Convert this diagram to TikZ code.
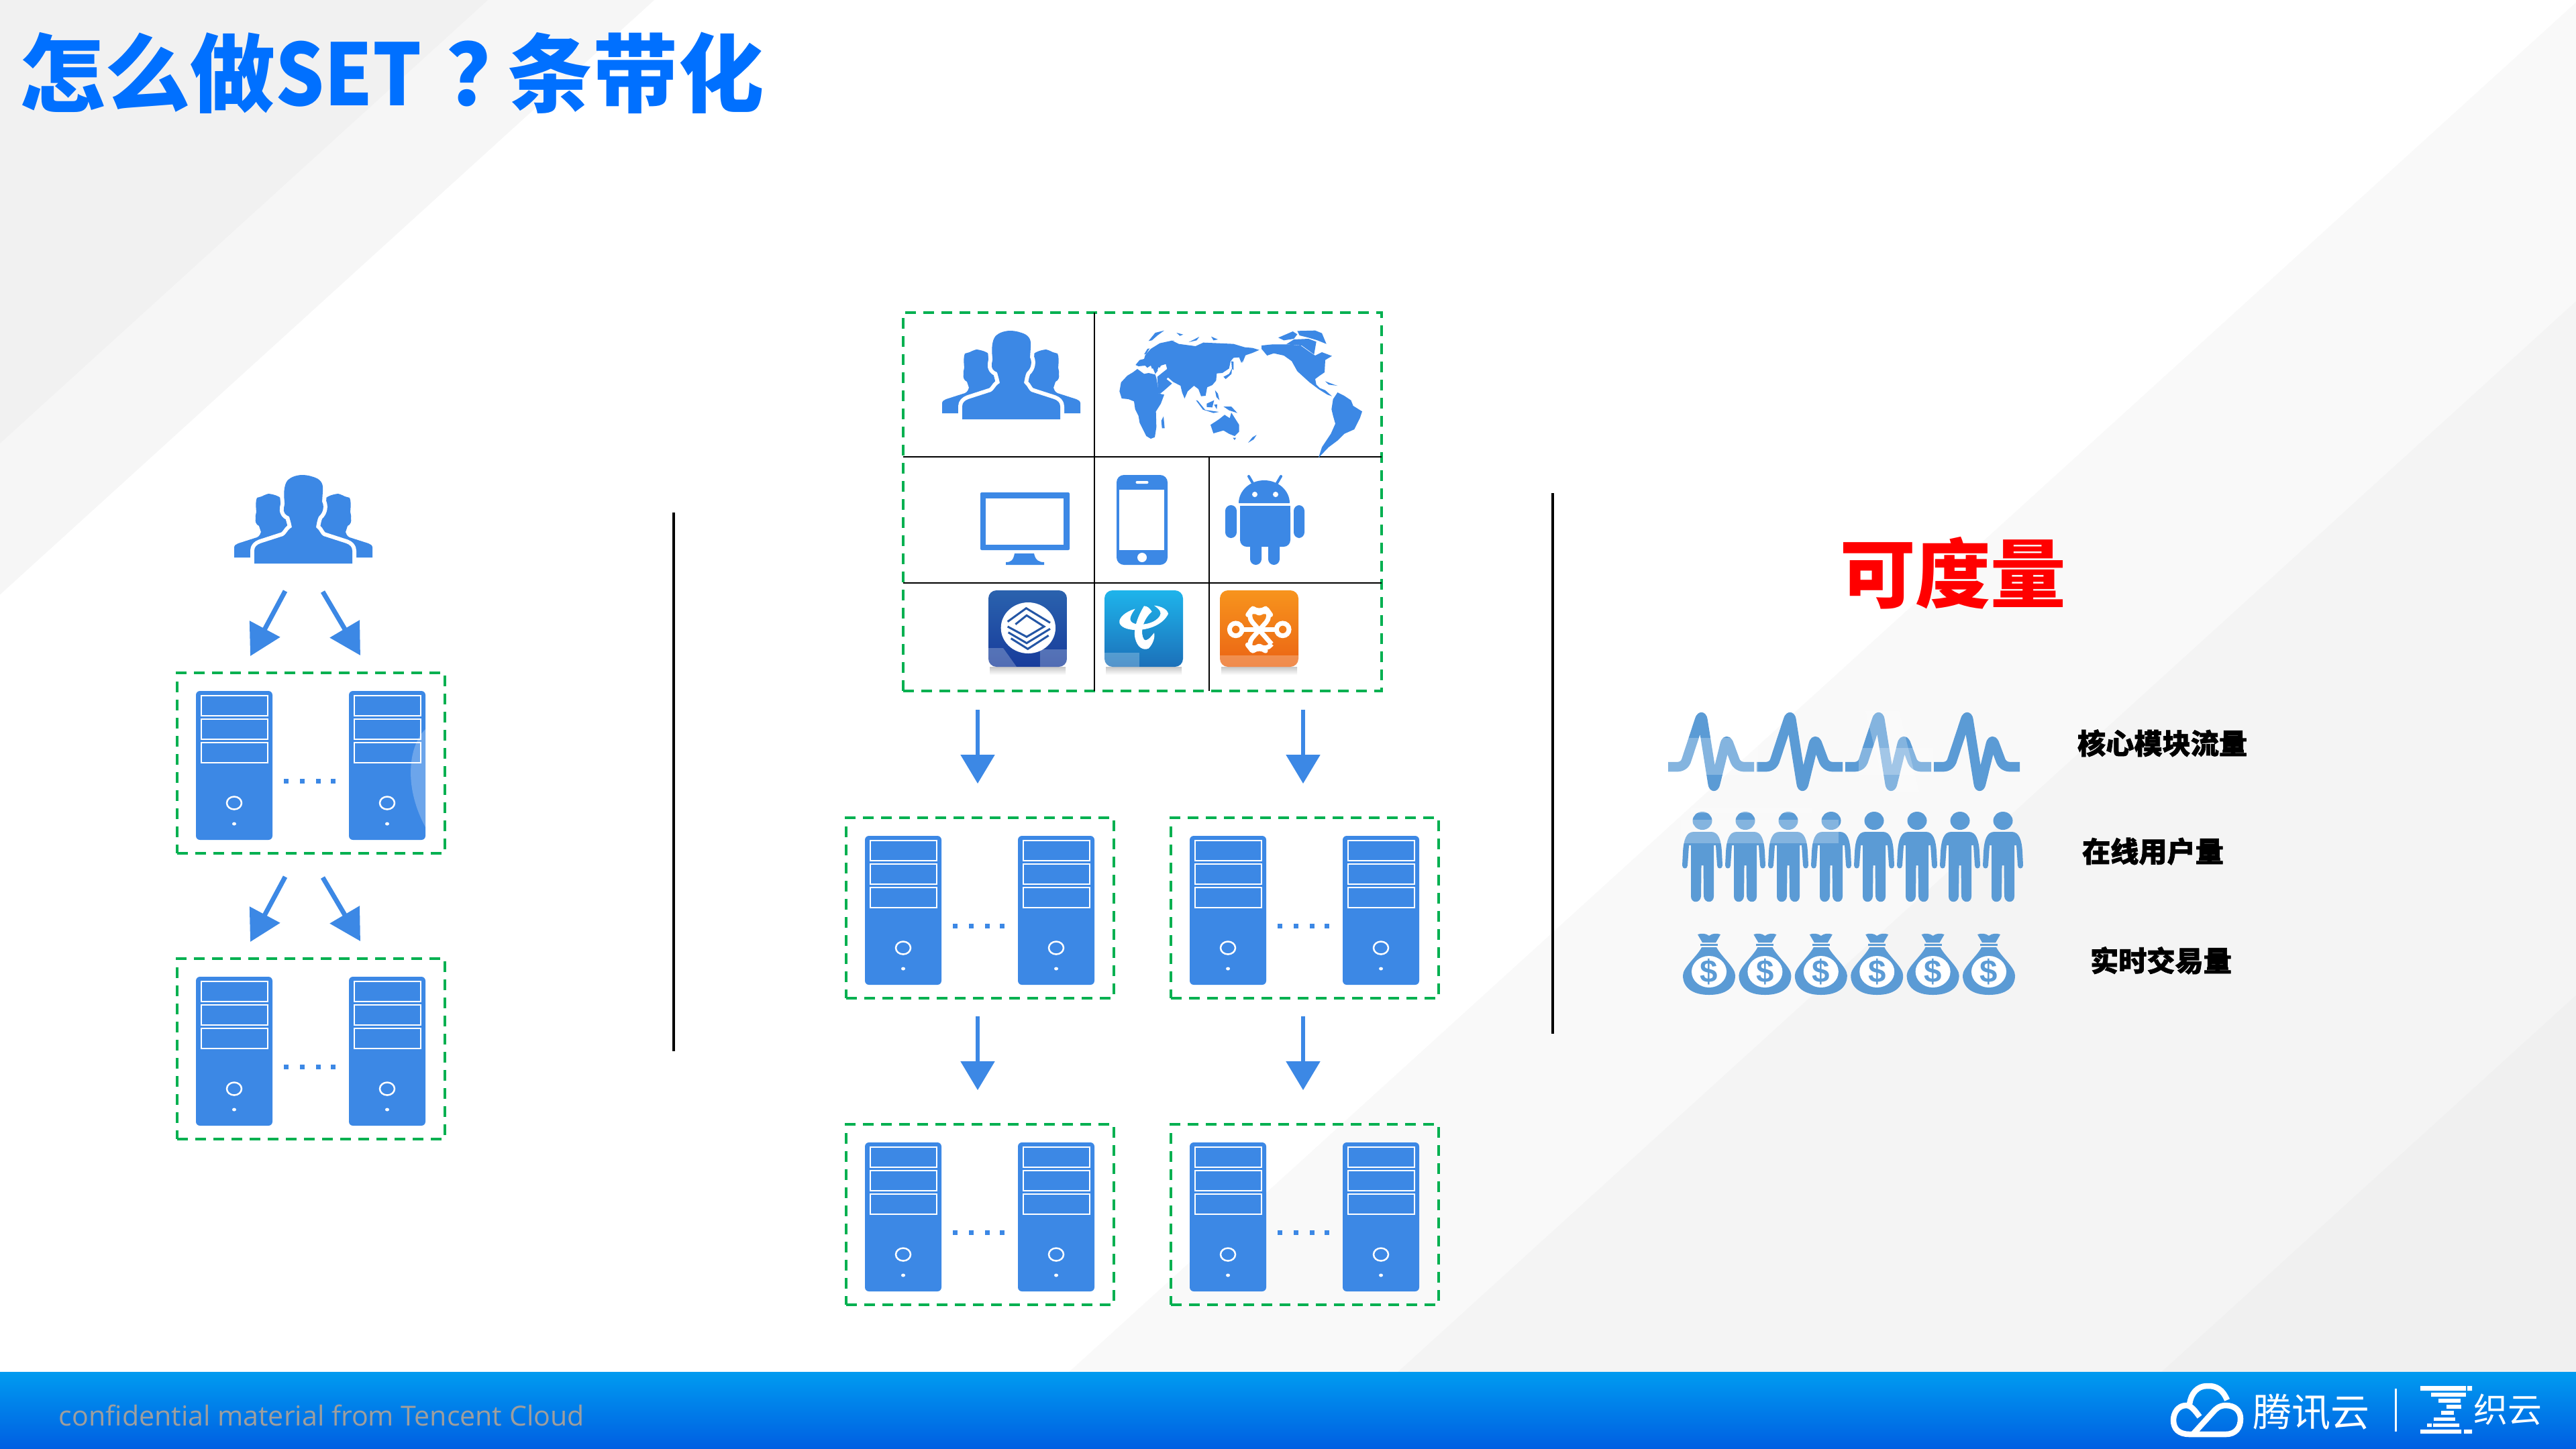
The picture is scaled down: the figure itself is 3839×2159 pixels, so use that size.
\documentclass[tikz,border=0pt]{standalone}
\usepackage{fontspec}
\setmainfont{Liberation Sans}
\newfontfamily\cjk{Noto Sans CJK SC}
\newfontfamily\cjknarrow[FakeStretch=0.9]{Noto Sans CJK SC}
\newfontfamily\cjkheavy[BoldFeatures={FakeBold=1.5}]{Noto Sans CJK SC}
\newfontfamily\uifont{Open Sans}
\usetikzlibrary{arrows.meta}
\definecolor{iconblue}{HTML}{3C88E5}
\definecolor{softblue}{HTML}{5B9BD5}
\definecolor{titleblue}{HTML}{0070FF}
\definecolor{dashgreen}{HTML}{00B050}
\definecolor{foottop}{HTML}{009BF0}
\definecolor{footbot}{HTML}{005FE2}
\definecolor{mobtop}{HTML}{2A62AE}
\definecolor{mobbot}{HTML}{183C9B}
\definecolor{mobline}{HTML}{2456A5}
\definecolor{teltop}{HTML}{1EB4EB}
\definecolor{telbot}{HTML}{1C70B9}
\definecolor{unitop}{HTML}{F7941D}
\definecolor{unibot}{HTML}{EB6414}
\tikzset{
  txt/.style={inner sep=0pt,outer sep=0pt},
  dashbox/.style={draw=dashgreen,line width=.35mm,dash pattern=on 1.57mm off 1.13mm,inner sep=0pt,outer sep=0pt,minimum width=39.9mm,minimum height=26.9mm,anchor=north west},
  flow/.style={iconblue,line width=.55mm,-{Triangle[length=4.3mm,width=5mm]}},
  diagflow/.style={iconblue,line width=.7mm,-{Triangle[length=4.6mm,width=5mm]}},
  gridline/.style={black,line width=.26mm},
  divider/.style={black,line width=.4mm},
  mobstroke/.style={mobline,line width=.3mm,line join=miter},
}
% server pair inside a dashed box whose corner is at #2,#3
\newcommand\srvtower[2]{%
  \begin{scope}[shift={(#1,#2)}]
    \fill[iconblue,rounded corners=.6mm] (0,0) rectangle (114,222);
    \foreach \yy in {7,42,77}{\draw[white,line width=.25mm] (8,\yy) rectangle (107,\yy+30);}
    \draw[white,line width=.25mm] (57,167) ellipse [x radius=11,y radius=9.5];
    \fill[white] (57,198) ellipse [x radius=3,y radius=2.5];
  \end{scope}}
\newcommand\srvbox[3]{%
  \node[dashbox] (#1) at (#2,#3) {};
  \srvtower{#2+28}{#3+27}
  \srvtower{#2+256}{#3+27}
  \foreach \dd in {162,186,210,232}{\fill[iconblue] (#2+\dd-3.5,#3+161-3.5) rectangle (#2+\dd+3.5,#3+161+3.5);}
}
\newcommand\crowdhalo{(-73,132) -- (-73,113) .. controls (-73,107) and (-69,104) .. (-64,102) -- (-30,91) .. controls (-26,89) and (-23,82) .. (-20,80) -- (-17,78) .. controls (-18,72) and (-20,66) .. (-21,62) .. controls (-27,60) and (-30,55) .. (-29,50) .. controls (-29,46) and (-27,44) .. (-28,40) .. controls (-30,25) and (-28,10) .. (-21,6) .. controls (-15,1) and (-5,0) .. (-2,0) .. controls (8,0) and (15,3) .. (18,4) .. controls (28,8) and (30,15) .. (29,25) -- (28,40) .. controls (31,45) and (31,55) .. (23,62) .. controls (21,66) and (20,72) .. (19,78) -- (21,80) .. controls (24,82) and (26,89) .. (30,91) -- (64,102) .. controls (69,104) and (73,107) .. (73,113) -- (73,132) -- cycle}
\newcommand\crowdside{(-103,123) -- (-103,108) .. controls (-103,105) and (-100,103) .. (-97,102) -- (-69,93) .. controls (-65,91) and (-64,88) .. (-63,85) -- (-66,76) .. controls (-71,74) and (-72,68) .. (-71,65) .. controls (-72,60) and (-70,58) .. (-70,55) .. controls (-71,45) and (-71,38) .. (-69,34) -- (-62,32) .. controls (-56,29) and (-53,28) .. (-51,28) .. controls (-44,29) and (-38,31) .. (-34,34) -- (-25,70) -- (-10,123) -- cycle}
\newcommand\crowdicon[2]{%
  \begin{scope}[shift={(#1,#2)}]
    \fill[iconblue] \crowdside;
    \begin{scope}[xscale=-1]\fill[iconblue] \crowdside;\end{scope}
    \draw[white,line width=1.2mm,line join=round] \crowdhalo;
    \fill[iconblue] \crowdhalo;
  \end{scope}}
\newcommand\pulseunit[1]{%
  \draw[softblue,line width=1.45mm,line join=round,rounded corners=.9mm] (#1,1143) -- (#1+24,1143) -- (#1+50,1064) -- (#1+68,1177) -- (#1+87,1100) -- (#1+103,1143) -- (#1+128,1143);}
\newcommand\manicon[1]{%
  \begin{scope}[shift={(#1,1240)}]
    \fill[softblue] (0,-16.5) ellipse [x radius=14.5,y radius=13.5];
    \fill[softblue] (-13,0) .. controls (-24,0) and (-28,12) .. (-29,30) -- (-30,50) .. controls (-30,56) and (-22,56) .. (-22,50) -- (-20,20) -- (-17,20) -- (-17,96) .. controls (-17,107) and (-3,107) .. (-2,96) -- (-1.5,50) -- (1.5,50) -- (2,96) .. controls (3,107) and (17,107) .. (17,96) -- (17,20) -- (20,20) -- (22,50) .. controls (22,56) and (30,56) .. (30,50) -- (29,30) .. controls (28,12) and (24,0) .. (13,0) -- cycle;
  \end{scope}}
\newcommand\bagicon[2]{%
  \begin{scope}[shift={(#2,1392)}]
    \fill[softblue] (-17,1) .. controls (-12,-1) and (-5,-1) .. (0,3) .. controls (5,-1) and (12,-1) .. (17,1) -- (10,13) -- (-10,13) -- cycle;
    \fill[softblue] (-13,15) rectangle (13,17.7);
    \fill[softblue] (-11,20) -- (11,20) .. controls (18,34) and (39,50) .. (39,62) .. controls (39,80) and (25,91) .. (0,91) .. controls (-25,91) and (-39,80) .. (-39,62) .. controls (-39,50) and (-18,34) .. (-11,20) -- cycle;
    \fill[white] (0,56.5) ellipse [x radius=26,y radius=23.5];
    \node[txt,softblue,font=\fontsize{13.5}{14}\selectfont\bfseries] (#1) at (0,57) {\$};
  \end{scope}}
\begin{document}
\begin{tikzpicture}[x=0.1mm,y=-0.1mm]
\useasboundingbox (0,0) rectangle (3839,2159);
% background
\fill[white] (0,0) rectangle (3839,2159);
\begin{scope}
  \clip (0,0) rectangle (3839,2159);
  \fill[black!3.5] (-100,0) -- (975,0) -- (-1400,2159) -- (-100,2159) -- cycle;
  \fill[black!5.5] (-100,0) -- (727,0) -- (-1648,2159) -- (-100,2159) -- cycle;
  \fill[black!2.5] (3843,0) -- (5000,0) -- (5000,2159) -- (1468,2159) -- cycle;
  \fill[black!4.5] (4333,0) -- (5000,0) -- (5000,2159) -- (1958,2159) -- cycle;
  \fill[black!6] (5471,0) -- (5600,0) -- (5600,2159) -- (3096,2159) -- cycle;
\end{scope}
% footer
\shade[top color=foottop,bottom color=footbot] (0,2045) rectangle (3839,2159);
% title
\node[txt,anchor=base west,titleblue,font=\fontsize{36.2}{40}\cjk\bfseries] (title) at (29,157) {怎么做{\cjknarrow\bfseries SET}\kern 3.6mm ？\kern -3.6mm 条带化};
\node[txt,anchor=base west,font=\fontsize{11.7}{14}\uifont,color=black!38] (confid) at (88,2125) {confidential material from Tencent Cloud};
% left column
\crowdicon{452}{708}
\srvbox{lefta}{264}{1003}
\srvbox{leftb}{264}{1429}
\coordinate (la1s) at (425,881); \coordinate (la1e) at (373,978);
\coordinate (la2s) at (481,882); \coordinate (la2e) at (537,977);
\coordinate (lb1s) at (425,1307); \coordinate (lb1e) at (373,1404);
\coordinate (lb2s) at (481,1308); \coordinate (lb2e) at (537,1403);
\draw[diagflow] (la1s) -- (la1e);
\draw[diagflow] (la2s) -- (la2e);
\draw[diagflow] (lb1s) -- (lb1e);
\draw[diagflow] (lb2s) -- (lb2e);
% dividers
\coordinate (d1t) at (1004,764); \coordinate (d1b) at (1004,1567);
\coordinate (d2t) at (2314,735); \coordinate (d2b) at (2314,1541);
\draw[divider] (d1t) -- (d1b);
\draw[divider] (d2t) -- (d2b);
% grid
\node[draw=dashgreen,line width=.35mm,dash pattern=on 1.57mm off 1.13mm,inner sep=0pt,outer sep=0pt,minimum width=71.3mm,minimum height=56.4mm,anchor=north west] (grid) at (1346,466) {};
\coordinate (v1t) at (1631,466); \coordinate (v1b) at (1631,1030);
\coordinate (v2t) at (1802,681); \coordinate (v2b) at (1802,1030);
\coordinate (h1l) at (1346,681); \coordinate (h1r) at (2059,681);
\coordinate (h2l) at (1346,869); \coordinate (h2r) at (2059,869);
\draw[gridline] (v1t) -- (v1b);
\draw[gridline] (v2t) -- (v2b);
\draw[gridline] (h1l) -- (h1r);
\draw[gridline] (h2l) -- (h2r);
\crowdicon{1507}{493}
% world map
\begin{scope}[shift={(1650,470)},scale=1/3]
  \fill[iconblue] (127,222) -- (145,200) -- (165,195) -- (170,178) -- (195,150) -- (235,125) -- (290,113) -- (320,128) -- (395,138) -- (430,122) -- (500,125) -- (565,128) -- (615,143) -- (650,146) -- (680,155) -- (650,168) -- (615,180) -- (600,213) -- (590,188) -- (565,190) -- (552,205) -- (545,238) -- (515,258) -- (490,260) -- (487,292) -- (470,312) -- (447,322) -- (440,360) -- (420,362) -- (408,330) -- (388,315) -- (360,340) -- (346,372) -- (335,345) -- (328,315) -- (295,298) -- (272,278) -- (265,285) -- (290,305) -- (250,340) -- (235,352) -- (228,345) -- (224,275) -- (240,262) -- (268,240) -- (262,218) -- (240,225) -- (232,240) -- (215,262) -- (205,238) -- (185,240) -- (170,225) -- (140,228) -- cycle;
  \fill[iconblue] (115,255) -- (90,270) -- (62,300) -- (55,340) -- (65,372) -- (95,375) -- (120,385) -- (125,420) -- (140,450) -- (145,480) -- (175,540) -- (195,552) -- (213,545) -- (220,500) -- (218,430) -- (240,395) -- (255,355) -- (232,350) -- (220,280) -- (215,265) -- (185,258) -- (165,262) -- (135,240) -- cycle;
  \fill[white] (230,232) -- (242,238) -- (236,250) -- (225,245) -- cycle;
  \fill[white] (175,238) -- (195,225) -- (205,255) -- (190,250) -- cycle;
  % islands of the north
  \fill[iconblue] (185,115) -- (215,78) -- (255,68) -- (225,90) -- (200,112) -- cycle;
  \fill[iconblue] (165,175) -- (180,150) -- (190,148) -- (175,172) -- cycle;
  \fill[iconblue] (222,163) -- (255,125) -- (300,112) -- (260,135) -- cycle;
  \fill[iconblue] (310,78) -- (340,86) -- (325,92) -- cycle;
  \fill[iconblue] (365,120) -- (412,96) -- (400,112) -- cycle;
  \fill[iconblue] (465,95) -- (495,108) -- (475,112) -- cycle;
  % east asia islands
  \fill[iconblue] (520,275) -- (545,262) -- (558,238) -- (556,262) -- (530,285) -- cycle;
  \fill[iconblue] (555,205) -- (565,208) -- (565,245) -- (558,240) -- cycle;
  \fill[iconblue] (600,180) -- (620,175) -- (605,212) -- cycle;
  \fill[iconblue] (397,380) -- (405,382) -- (440,425) -- (428,422) -- cycle;
  \fill[iconblue] (430,422) -- (500,432) -- (475,437) -- cycle;
  \fill[iconblue] (445,395) -- (478,380) -- (470,412) -- (445,410) -- cycle;
  \fill[iconblue] (478,400) -- (492,398) -- (490,420) -- cycle;
  \fill[iconblue] (482,335) -- (495,350) -- (502,380) -- (488,365) -- cycle;
  \fill[iconblue] (520,408) -- (555,408) -- (582,437) -- (545,425) -- cycle;
  % australia and more
  \fill[iconblue] (462,490) -- (500,465) -- (525,445) -- (548,460) -- (555,435) -- (590,490) -- (590,520) -- (570,540) -- (545,530) -- (520,515) -- (475,528) -- cycle;
  \fill[iconblue] (562,548) -- (576,548) -- (570,558) -- cycle;
  \fill[iconblue] (630,570) -- (650,545) -- (668,535) -- (655,555) -- cycle;
  \fill[iconblue] (242,472) -- (252,452) -- (257,505) -- (245,505) -- cycle;
  % americas
  \fill[iconblue] (690,135) -- (740,130) -- (800,130) -- (865,135) -- (900,160) -- (930,180) -- (960,165) -- (1005,182) -- (975,200) -- (972,255) -- (950,270) -- (930,285) -- (935,310) -- (950,325) -- (975,335) -- (1005,362) -- (985,355) -- (945,330) -- (905,300) -- (850,250) -- (825,205) -- (790,180) -- (745,170) -- (715,180) -- (690,150) -- cycle;
  \fill[iconblue] (765,100) -- (830,72) -- (850,85) -- (835,105) -- (790,112) -- cycle;
  \fill[iconblue] (850,70) -- (930,68) -- (960,80) -- (980,128) -- (940,112) -- (900,100) -- (860,90) -- cycle;
  \fill[iconblue] (800,130) -- (835,108) -- (900,105) -- (935,118) -- (925,175) -- (870,135) -- cycle;
  \fill[iconblue] (975,295) -- (1020,312) -- (1030,315) -- (990,310) -- cycle;
  \fill[iconblue] (1010,375) -- (1030,345) -- (1060,360) -- (1090,380) -- (1100,405) -- (1140,430) -- (1130,460) -- (1105,510) -- (1060,530) -- (1030,560) -- (990,590) -- (945,637) -- (960,590) -- (1000,530) -- (1020,485) -- (1010,450) -- (1003,420) -- cycle;
\end{scope}
% monitor
\fill[iconblue,rounded corners=.2mm] (1461,734) rectangle (1594,820);
\fill[white] (1469,743) rectangle (1585,812);
\fill[iconblue] (1512,825) -- (1541,825) .. controls (1543,835) and (1548,838) .. (1556,838) -- (1556,842) -- (1499,842) -- (1499,838) .. controls (1507,838) and (1510,835) .. (1512,825) -- cycle;
% phone
\fill[iconblue,rounded corners=1.1mm] (1664,708) rectangle (1740,842);
\fill[white] (1668,730) rectangle (1735,820);
\fill[white,rounded corners=.2mm] (1692.5,717) rectangle (1711.5,721);
\fill[white] (1702,831) circle [radius=7];
% android
\fill[iconblue,rounded corners=1mm] (1848,754) -- (1923,754) -- (1923,815) -- (1848,815) -- cycle;
\fill[iconblue] (1846,750) arc [start angle=180,end angle=360,x radius=38,y radius=34] -- cycle;
\fill[iconblue] (1848,754) rectangle (1923,800);
\fill[white] (1870,737) circle [radius=4];
\fill[white] (1901,737) circle [radius=4];
\draw[iconblue,line width=.4mm,line cap=round] (1868,722) -- (1861,710);
\draw[iconblue,line width=.4mm,line cap=round] (1902,722) -- (1909,710);
\fill[iconblue,rounded corners=.85mm] (1826,753) rectangle (1843,802);
\fill[iconblue,rounded corners=.85mm] (1928,753) rectangle (1944,802);
\fill[iconblue,rounded corners=.85mm] (1863,790) rectangle (1880,842);
\fill[iconblue,rounded corners=.85mm] (1890,790) rectangle (1907,842);
% carrier logos
\shade[top color=black!22,bottom color=white] (1475,994) rectangle (1588,1006);
\shade[top color=black!22,bottom color=white] (1648,994) rectangle (1761,1006);
\shade[top color=black!22,bottom color=white] (1820,994) rectangle (1933,1006);
\shade[top color=mobtop,bottom color=mobbot,rounded corners=1.2mm] (1473,880) rectangle (1590,994);
\shade[top color=teltop,bottom color=telbot,rounded corners=1.2mm] (1646,880) rectangle (1763,994);
\shade[top color=unitop,bottom color=unibot,rounded corners=1.2mm] (1818,880) rectangle (1935,994);
\begin{scope}[shift={(1450,860)},scale=1/3]
  % mobile
  \fill[white] (247,228) ellipse [x radius=122,y radius=114];
  \draw[mobstroke] (155,200) -- (238,140) -- (345,205);
  \draw[mobstroke] (190,212) -- (240,172) -- (318,222) -- (240,268) -- (155,222);
  \draw[mobstroke] (158,248) -- (240,296) -- (345,232);
  \draw[mobstroke] (170,275) -- (245,322) -- (338,262);
  % telecom
  \fill[white] (725,143) .. controls (680,155) and (650,185) .. (655,205) .. controls (660,225) and (690,235) .. (720,237) .. controls (780,240) and (850,215) .. (873,165) .. controls (870,145) and (840,130) .. (810,128) .. controls (835,145) and (845,160) .. (835,175) .. controls (815,205) and (770,215) .. (735,212) .. controls (700,205) and (690,190) .. (725,143) -- cycle;
  \fill[white] (765,130) .. controls (740,170) and (715,230) .. (725,275) .. controls (735,315) and (760,330) .. (785,320) .. controls (805,300) and (815,270) .. (810,250) .. controls (790,275) and (775,290) .. (765,280) .. controls (745,250) and (760,190) .. (800,155) .. controls (790,140) and (780,130) .. (765,130) -- cycle;
  % unicom
  \draw[white,line width=.7mm,rounded corners=1.2mm,line join=round] (1335,300) -- (1225,175) -- (1250,140) -- (1280,163) -- (1310,140) -- (1335,175) -- (1225,300) -- (1250,332) -- (1280,308) -- (1310,332) -- (1335,300);
  \draw[white,line width=.7mm] (1175,235) circle [radius=28];
  \draw[white,line width=.7mm] (1385,235) circle [radius=28];
  \draw[white,line width=.7mm] (1203,235) -- (1357,235);
\end{scope}
% centre servers
\srvbox{ctla}{1261}{1219}
\srvbox{ctra}{1745}{1219}
\srvbox{ctlb}{1261}{1676}
\srvbox{ctrb}{1745}{1676}
\coordinate (f1s) at (1457,1058); \coordinate (f1e) at (1457,1168);
\coordinate (f2s) at (1942,1058); \coordinate (f2e) at (1942,1168);
\coordinate (f3s) at (1457,1515); \coordinate (f3e) at (1457,1625);
\coordinate (f4s) at (1942,1515); \coordinate (f4e) at (1942,1625);
\draw[flow] (f1s) -- (f1e);
\draw[flow] (f2s) -- (f2e);
\draw[flow] (f3s) -- (f3e);
\draw[flow] (f4s) -- (f4e);
% right column
\node[txt,anchor=base west,red,font=\fontsize{32}{36}\cjk\bfseries] (measure) at (2742,897) {可度量};
\foreach \i in {0,1,2,3}{\pulseunit{2486+132*\i}}
\foreach \i in {0,...,7}{\manicon{2537+64*\i}}
\bagicon{ba}{2547}
\bagicon{bb}{2630.4}
\bagicon{bc}{2713.8}
\bagicon{bd}{2797.2}
\bagicon{be}{2880.6}
\bagicon{bf}{2964}
\node[txt,anchor=base west,font=\fontsize{12}{14}\cjkheavy\bfseries] (lblcore) at (3096,1124) {核心模块流量};
\node[txt,anchor=base west,font=\fontsize{12}{14}\cjkheavy\bfseries] (lblonline) at (3103,1285) {在线用户量};
\node[txt,anchor=base west,font=\fontsize{12}{14}\cjkheavy\bfseries] (lbltrade) at (3115,1448) {实时交易量};
% faint watermark over the drawing
\begin{scope}[white,opacity=.25]
  \fill (634,1087) .. controls (610,1110) and (600,1170) .. (634,1233) -- cycle;
  \fill (1818,977) rectangle (1935,994);
  \fill (1646,973) rectangle (1698,994);
  \fill (1550,968) rectangle (1590,994);
  \fill (1473,966) -- (1495,966) -- (1515,994) -- (1473,994) -- cycle;
  \fill (2480,1100) rectangle (2620,1155);
  \fill (2780,1060) -- (2830,1060) -- (2860,1180) -- (2810,1180) -- cycle;
  \fill (2770,1115) rectangle (2880,1155);
  \fill (2520,1205) rectangle (2700,1212);
  \fill (2505,1222) rectangle (2740,1257);
\end{scope}
% cloud logo
\draw[white,line width=.85mm,line cap=butt,line join=round] (3319,2087) .. controls (3313,2072) and (3303,2065) .. (3289,2066) .. controls (3274,2066) and (3265,2078) .. (3263,2093);
\draw[white,line width=.85mm,line join=round] (3278,2112) .. controls (3272,2104) and (3266,2095) .. (3258,2095) .. controls (3246,2095) and (3239,2106) .. (3239,2117) .. controls (3239,2130) and (3247,2138) .. (3263,2138) -- (3317,2138) .. controls (3332,2138) and (3339,2128) .. (3339,2115) .. controls (3339,2103) and (3331,2095) .. (3317,2095) .. controls (3308,2095) and (3302,2100) .. (3298,2105) -- (3268,2138);
\node[txt,anchor=base west,white,font=\fontsize{16.5}{18}\cjk] (brandcn) at (3357,2126) {腾讯云};
\coordinate (bart) at (3570,2070); \coordinate (barb) at (3570,2134);
\draw[white,line width=.3mm] (bart) -- (barb);
\fill[white] (3607,2066) rectangle (3675,2073) (3677,2066) rectangle (3684,2073);
\fill[white] (3623,2076) rectangle (3675,2082);
\fill[white] (3634,2085) rectangle (3667,2091);
\fill[white] (3646,2094) rectangle (3668,2100);
\fill[white] (3638,2103) rectangle (3657,2109);
\fill[white] (3627,2113) rectangle (3659,2118);
\fill[white] (3617,2122) rectangle (3624,2127) (3626,2122) rectangle (3665,2127);
\fill[white] (3607,2131) rectangle (3668,2137) (3672,2131) rectangle (3684,2137);
\node[txt,anchor=base west,white,font=\fontsize{14.5}{16}\cjk] (brandzy) at (3686,2120) {织云};
\end{tikzpicture}
\end{document}
